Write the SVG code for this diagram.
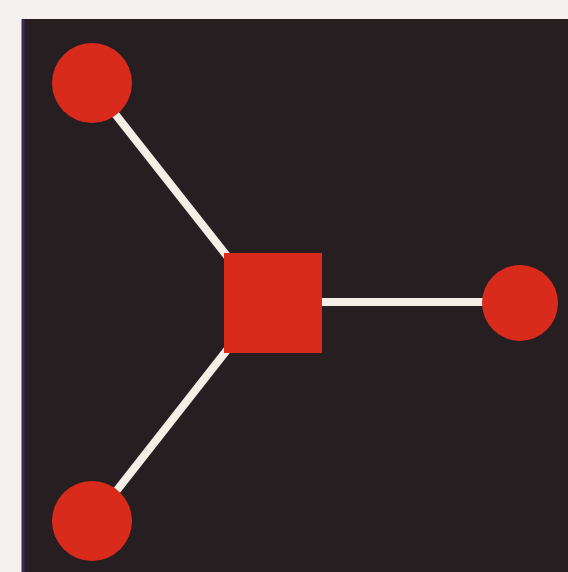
<svg xmlns="http://www.w3.org/2000/svg" width="568" height="572" viewBox="0 0 568 572">
<style>
.node{fill:#d92b1c}
.edge{stroke:#f3eee6;stroke-width:8;stroke-linecap:butt;fill:none}
</style>
<rect x="0" y="0" width="568" height="572" fill="#f5f1ee"/>
<rect x="22" y="19" width="546" height="553" fill="#271e22"/>
<line x1="23" y1="19" x2="23" y2="572" stroke="#3a2a55" stroke-width="3"/>
<g id="connectors">
<line class="edge" x1="112" y1="110" x2="227" y2="256"/>
<line class="edge" x1="227" y1="350" x2="114" y2="494"/>
<line class="edge" x1="320" y1="302" x2="486" y2="302"/>
</g>
<g id="n1"><circle class="node" cx="92" cy="83" r="40"/></g>
<g id="hub"><rect class="node" x="224" y="253" width="98" height="100"/></g>
<g id="n2"><circle class="node" cx="520" cy="303" r="38"/></g>
<g id="n3"><circle class="node" cx="92" cy="521" r="40"/></g>
</svg>
